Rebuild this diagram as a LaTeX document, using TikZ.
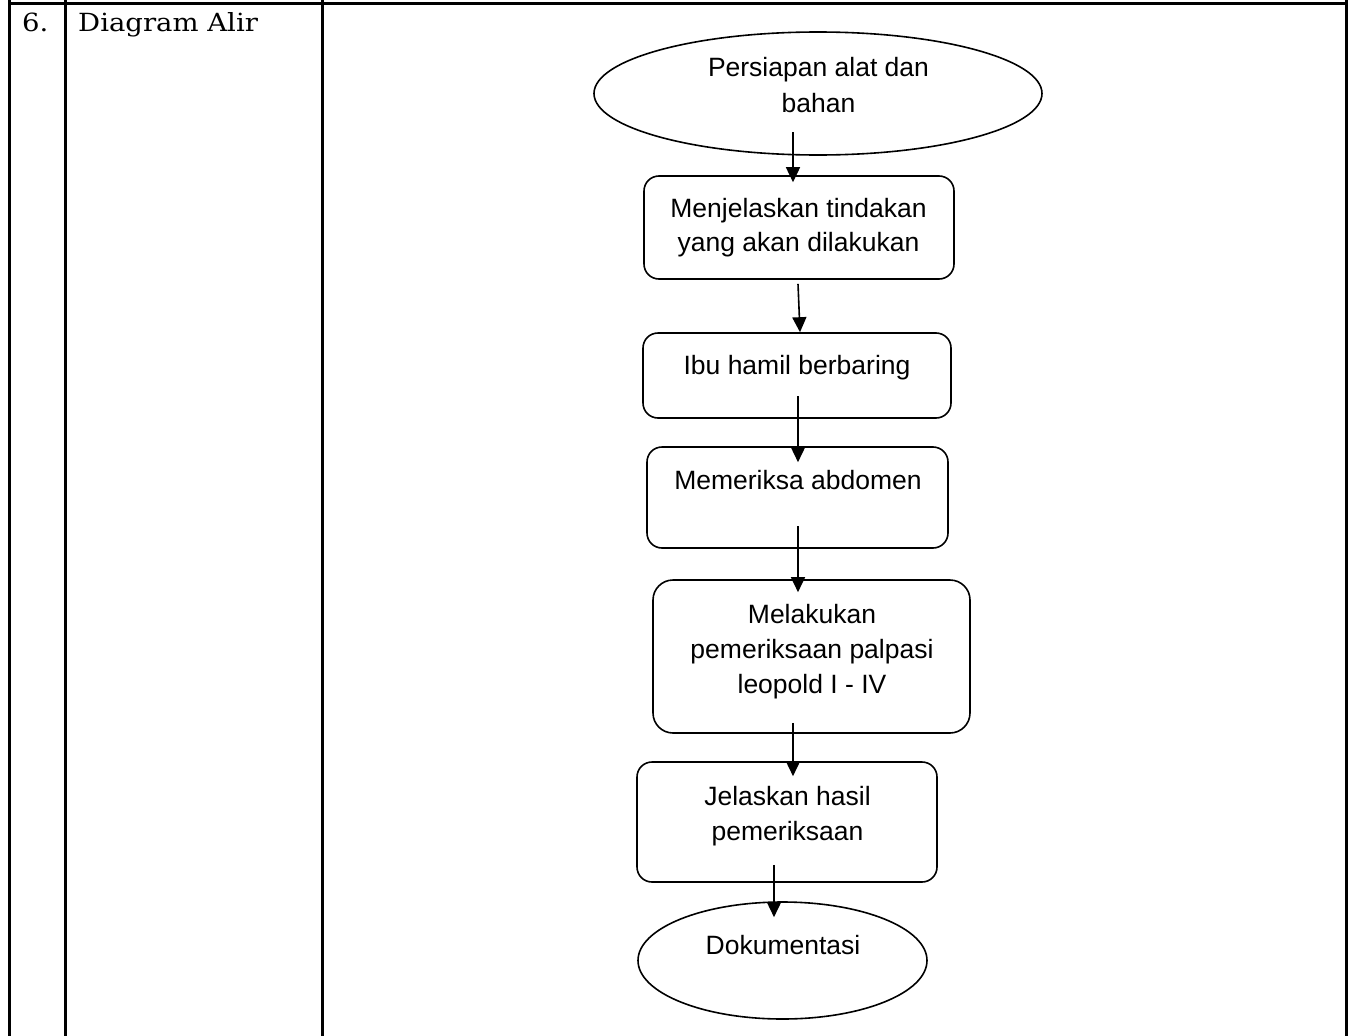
\documentclass[tikz,border=0pt]{standalone}
\usepackage{fontspec}
\usetikzlibrary{arrows.meta,shapes.geometric}
\newfontfamily\arialf{Liberation Sans}
\newfontfamily\bookf[FakeStretch=1.1]{DejaVu Serif}
\begin{document}
\begin{tikzpicture}[x=1pt,y=-1pt,
  tbl/.style={line width=3pt},
  shp/.style={draw,line width=1.6pt,inner sep=0pt},
  oval/.style={shp,ellipse},
  rbox/.style={shp,rectangle,rounded corners=15pt},
  ftxt/.style={anchor=base,inner sep=0pt,font=\arialf\fontsize{26.5}{34}\selectfont},
  stxt/.style={anchor=base west,inner sep=0pt,font=\bookf\fontsize{25}{28}\selectfont},
  arr/.style={line width=1.6pt,-{Triangle[length=15pt,width=14pt]}}]
\useasboundingbox (0,0) rectangle (1350,1036);
% table
\draw[tbl] (9.5,0) -- (9.5,1036);
\draw[tbl] (65,0) -- (65,1036);
\draw[tbl] (322.5,0) -- (322.5,1036);
\draw[tbl] (1346,0) -- (1346,1036);
\draw[tbl] (9.5,3) -- (1346,3);
\node[stxt] (num) at (22,31.5) {6.};
\node[stxt] (ttl) at (78,31.5) {Diagram Alir};
% shapes
\node[oval,minimum width=448pt,minimum height=123pt] (e1) at (818,93.5) {};
\node[rbox,minimum width=310pt,minimum height=103pt] (b2) at (799,227.5) {};
\node[rbox,minimum width=308pt,minimum height=85pt] (b3) at (797,375.5) {};
\node[rbox,minimum width=301pt,minimum height=101pt] (b4) at (797.5,497.5) {};
\node[rbox,rounded corners=20pt,minimum width=317pt,minimum height=153pt] (b5) at (811.5,656.5) {};
\node[rbox,minimum width=300pt,minimum height=120pt] (b6) at (787,822) {};
\node[oval,minimum width=289pt,minimum height=117pt] (e7) at (782.5,960.5) {};
% texts
\node[ftxt] (t1a) at (818.5,76) {Persiapan alat dan};
\node[ftxt] (t1b) at (818.5,112) {bahan};
\node[ftxt] (t2a) at (798.5,217) {Menjelaskan tindakan};
\node[ftxt] (t2b) at (798.5,251.5) {yang akan dilakukan};
\node[ftxt] (t3) at (797,374) {Ibu hamil berbaring};
\node[ftxt] (t4) at (798,489) {Memeriksa abdomen};
\node[ftxt] (t5a) at (812,623) {Melakukan};
\node[ftxt] (t5b) at (812,658) {pemeriksaan palpasi};
\node[ftxt] (t5c) at (812,693) {leopold I - IV};
\node[ftxt] (t6a) at (787.5,805) {Jelaskan hasil};
\node[ftxt] (t6b) at (787.5,840) {pemeriksaan};
\node[ftxt] (t7) at (783,954) {Dokumentasi};
% arrows
\draw[arr] ([xshift=-25pt,yshift=-38.5pt]e1.center) -- ([xshift=-6pt,yshift=-7pt]b2.north);
\draw[arr] ([xshift=-1pt,yshift=-4pt]b2.south) -- ([xshift=3pt,yshift=0pt]b3.north);
\draw[arr] ([xshift=1pt,yshift=-20.5pt]b3.center) -- ([xshift=0.5pt,yshift=-16pt]b4.north);
\draw[arr] ([xshift=0.5pt,yshift=-28.5pt]b4.center) -- ([xshift=-13.5pt,yshift=-13pt]b5.north);
\draw[arr] ([xshift=-18.5pt,yshift=11pt]b5.south) -- ([xshift=6pt,yshift=-15pt]b6.north);
\draw[arr] ([xshift=-13pt,yshift=18pt]b6.south) -- ([xshift=-8.5pt,yshift=-16pt]e7.north);
\end{tikzpicture}
\end{document}
